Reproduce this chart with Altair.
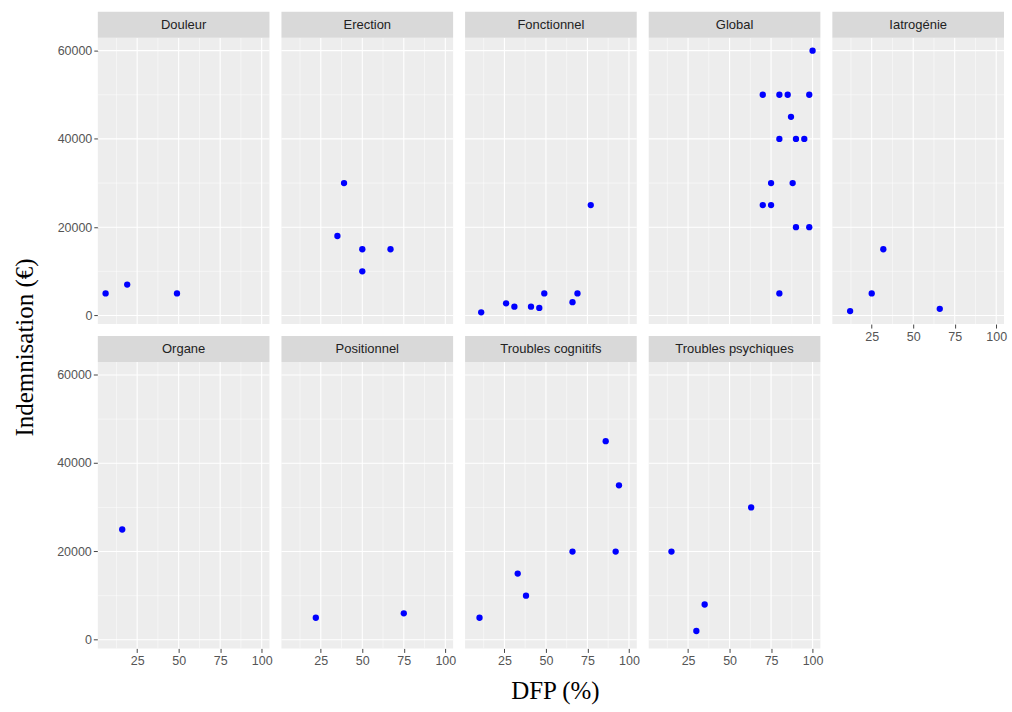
import altair as alt
import pandas as pd

# Facet labels (order of the panels, five per row)
panels = ["Douleur", "Erection", "Fonctionnel", "Global", "Iatrogénie",
          "Organe", "Positionnel", "Troubles cognitifs", "Troubles psychiques"]

# DFP (%) and compensation (€) per panel
dfp_douleur = [6, 19, 49]
eur_douleur = [5000, 7000, 5000]

dfp_erection = [39, 35, 50, 67, 50]
eur_erection = [30000, 18000, 15000, 15000, 10000]

dfp_fonctionnel = [11, 26, 31, 41, 46, 49, 66, 69, 77]
eur_fonctionnel = [700, 2750, 2000, 2000, 1700, 5000, 3000, 5000, 25000]

dfp_global = [100, 70, 80, 85, 98, 87, 80, 90, 95, 75, 88, 70, 75, 90, 98, 80]
eur_global = [60000, 50000, 50000, 50000, 50000, 45000, 40000, 40000, 40000,
              30000, 30000, 25000, 25000, 20000, 20000, 5000]

dfp_iatrogenie = [32, 25, 12, 66]
eur_iatrogenie = [15000, 5000, 1000, 1500]

dfp_organe = [16]
eur_organe = [25000]

dfp_positionnel = [22, 75]
eur_positionnel = [5000, 6000]

dfp_cognitifs = [86, 94, 66, 92, 33, 38, 10]
eur_cognitifs = [45000, 35000, 20000, 20000, 15000, 10000, 5000]

dfp_psychiques = [63, 15, 35, 30]
eur_psychiques = [30000, 20000, 8000, 2000]

# Axis breaks and grid lines
x_major = [25, 50, 75, 100]
x_minor = [12.5, 37.5, 62.5, 87.5]
y_major = [0, 20000, 40000, 60000]
y_minor = [10000, 30000, 50000]

PANEL_W = 172
PANEL_H = 287
STRIP_H = 26
X_DOMAIN = [1.3, 104.7]
Y_DOMAIN = [-1950, 62950]

PANEL_FILL = "#EDEDED"
STRIP_FILL = "#D9D9D9"
POINT_COLOR = "#0000FF"
LABEL_GREY = "#555555"
TICK_GREY = "#444444"
SANS = "Liberation Sans"
SERIF = "Liberation Serif"
TICK_FONT_SIZE = 12.5

xscale = alt.Scale(domain=X_DOMAIN, nice=False, zero=False)
yscale = alt.Scale(domain=Y_DOMAIN, nice=False, zero=False)


def x_axis(show, title=None):
    if not show:
        return None
    kw = dict(values=x_major, grid=False, domain=False, ticks=True,
              tickColor=TICK_GREY, tickSize=4, tickWidth=1,
              labelColor=LABEL_GREY, labelFontSize=TICK_FONT_SIZE,
              labelFont=SANS, labelPadding=2, labelFlush=False,
              labelOverlap=False)
    if title:
        kw.update(title=title, titleFont=SERIF, titleFontSize=25,
                  titleFontWeight="normal", titleColor="#000000",
                  titleX=90, titleY=42, titleBaseline="middle",
                  titleAlign="center")
    else:
        kw.update(title=None)
    return alt.Axis(**kw)


def y_axis(show, title=None):
    if not show:
        return None
    kw = dict(values=y_major, format="d", grid=False, domain=False,
              ticks=True, tickColor=TICK_GREY, tickSize=4, tickWidth=1,
              labelColor=LABEL_GREY, labelFontSize=TICK_FONT_SIZE,
              labelFont=SANS, labelPadding=2, labelFlush=False,
              labelOverlap=False)
    if title:
        kw.update(title=title, titleFont=SERIF, titleFontSize=25,
                  titleFontWeight="normal", titleColor="#000000",
                  titleX=-73, titleY=310, titleBaseline="middle",
                  titleAlign="center", titleAngle=270)
    else:
        kw.update(title=None)
    return alt.Axis(**kw)


def panel(name, xs, ys, show_x=False, show_y=False, x_title=None,
          y_title=None, y_as_marks=False):
    pts = pd.DataFrame({"DFP": xs, "Indemnisation": ys})
    xa = x_axis(show_x, x_title)
    ya = y_axis(show_y and not y_as_marks, y_title)

    # white major / minor grid, ggplot style
    vgrid_major = alt.Chart(pd.DataFrame({"DFP": x_major})).mark_rule(
        color="white", strokeWidth=1.1
    ).encode(x=alt.X("DFP:Q", scale=xscale, axis=xa))
    vgrid_minor = alt.Chart(pd.DataFrame({"DFP": x_minor})).mark_rule(
        color="white", strokeWidth=0.5
    ).encode(x=alt.X("DFP:Q", scale=xscale, axis=xa))
    hgrid_major = alt.Chart(pd.DataFrame({"Indemnisation": y_major})).mark_rule(
        color="white", strokeWidth=1.1
    ).encode(y=alt.Y("Indemnisation:Q", scale=yscale, axis=ya))
    hgrid_minor = alt.Chart(pd.DataFrame({"Indemnisation": y_minor})).mark_rule(
        color="white", strokeWidth=0.5
    ).encode(y=alt.Y("Indemnisation:Q", scale=yscale, axis=ya))

    # facet strip above the panel
    label_df = pd.DataFrame({"label": [name]})
    strip = alt.Chart(label_df).mark_rect(color=STRIP_FILL).encode(
        x=alt.value(0), x2=alt.value(PANEL_W),
        y=alt.value(-STRIP_H), y2=alt.value(0)
    )
    strip_text = alt.Chart(label_df).mark_text(
        font=SANS, fontSize=13, color="#222222", baseline="middle",
        align="center"
    ).encode(x=alt.value(PANEL_W / 2), y=alt.value(-STRIP_H / 2),
             text="label:N")

    points = alt.Chart(pts).mark_circle(
        size=40, color=POINT_COLOR, opacity=1
    ).encode(
        x=alt.X("DFP:Q", scale=xscale, axis=xa),
        y=alt.Y("Indemnisation:Q", scale=yscale, axis=ya),
    )

    layers = [hgrid_minor, vgrid_minor, hgrid_major, vgrid_major,
              strip, strip_text, points]

    if show_y and y_as_marks:
        # left-hand ticks and labels drawn as marks on the y scale
        ytick_df = pd.DataFrame({"Indemnisation": y_major})
        layers.append(
            alt.Chart(ytick_df).mark_rule(color=TICK_GREY, strokeWidth=1).encode(
                y=alt.Y("Indemnisation:Q", scale=yscale, axis=None),
                x=alt.value(-4), x2=alt.value(0),
            )
        )
        layers.append(
            alt.Chart(ytick_df).mark_text(
                font=SANS, fontSize=TICK_FONT_SIZE, color=LABEL_GREY,
                align="right", baseline="middle"
            ).encode(
                y=alt.Y("Indemnisation:Q", scale=yscale, axis=None),
                x=alt.value(-6),
                text=alt.Text("Indemnisation:Q", format="d"),
            )
        )

    return alt.layer(*layers).properties(width=PANEL_W, height=PANEL_H)


charts = [
    panel("Douleur", dfp_douleur, eur_douleur, show_y=True,
          y_title="Indemnisation (€)"),
    panel("Erection", dfp_erection, eur_erection),
    panel("Fonctionnel", dfp_fonctionnel, eur_fonctionnel),
    panel("Global", dfp_global, eur_global),
    panel("Iatrogénie", dfp_iatrogenie, eur_iatrogenie, show_x=True),
    panel("Organe", dfp_organe, eur_organe, show_x=True, show_y=True,
          y_as_marks=True),
    panel("Positionnel", dfp_positionnel, eur_positionnel, show_x=True),
    panel("Troubles cognitifs", dfp_cognitifs, eur_cognitifs, show_x=True,
          x_title="DFP (%)"),
    panel("Troubles psychiques", dfp_psychiques, eur_psychiques, show_x=True),
]

chart = alt.concat(
    *charts, columns=5, spacing={"row": 38, "column": 12}, bounds="flush"
).properties(
    padding={"left": 13, "top": 11, "right": 5, "bottom": 5},
    background="white",
).configure_view(fill=PANEL_FILL, strokeWidth=0)

chart.save("out.html", embed_options={"renderer": "svg", "actions": False})
